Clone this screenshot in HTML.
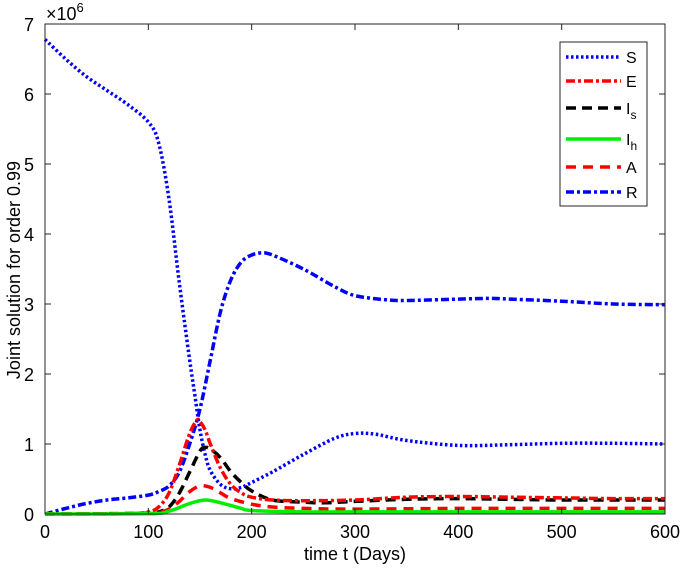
<!DOCTYPE html>
<html><head><meta charset="utf-8"><style>
body{margin:0;background:#fff}
svg{font-family:"Liberation Sans",Arial,sans-serif}
</style></head><body>
<svg width="680" height="573" viewBox="0 0 680 573">
<g id="plot"></g>
<g id="axes"></g>
<g id="legend"></g>
</svg>
<script>
const xTicks=[0,100,200,300,400,500,600];
const yTicks=[0,1,2,3,4,5,6,7];
const tS=[0,20,40,60,80,100,110,120,130,140,145,150,155,160,170,180,190,200,220,250,280,300,320,350,400,450,500,550,600];
const vS=[6.78,6.5,6.25,6.05,5.85,5.6,5.3,4.5,3.3,2.2,1.7,1.2,0.85,0.62,0.42,0.36,0.38,0.45,0.6,0.85,1.08,1.15,1.14,1.05,0.98,0.99,1.01,1.01,1.0];
const tR=[0,20,40,60,80,100,110,120,130,140,150,160,170,180,190,200,210,220,250,280,300,330,350,400,430,450,500,550,600];
const vR=[0,0.08,0.15,0.2,0.23,0.27,0.32,0.4,0.6,1.0,1.5,2.2,2.9,3.35,3.6,3.7,3.73,3.7,3.5,3.25,3.12,3.06,3.05,3.07,3.08,3.07,3.04,3.0,2.99];
const tE=[0,80,100,110,120,130,140,147,150,155,160,170,180,190,200,220,250,300,350,400,450,500,550,600];
const vE=[0,0.005,0.03,0.1,0.3,0.7,1.15,1.34,1.32,1.2,1.0,0.65,0.42,0.3,0.24,0.2,0.19,0.2,0.24,0.25,0.24,0.23,0.22,0.22];
const tI=[0,100,110,120,130,140,150,155,160,170,180,190,200,220,250,270,300,350,400,450,500,600];
const vI=[0,0.01,0.03,0.1,0.3,0.6,0.9,0.95,0.93,0.8,0.6,0.45,0.33,0.2,0.17,0.16,0.18,0.21,0.22,0.21,0.2,0.2];
const tA=[0,100,110,120,130,140,150,160,170,180,200,220,250,300,400,500,600];
const vA=[0,0.005,0.02,0.07,0.18,0.32,0.4,0.38,0.3,0.22,0.14,0.1,0.08,0.07,0.08,0.08,0.08];
const tH=[0,100,120,140,155,170,190,200,250,300,600];
const vH=[0,0.005,0.04,0.15,0.2,0.16,0.08,0.05,0.03,0.03,0.03];
const NS='http://www.w3.org/2000/svg';
const X0=45,X1=665,Y0=514,Y1=24;
const sx=t=>X0+(t/600)*(X1-X0);
const sy=v=>Y0-(v/7)*(Y0-Y1);
function mk(tag,attrs,parent){const e=document.createElementNS(NS,tag);for(const k in attrs)e.setAttribute(k,attrs[k]);parent.appendChild(e);return e;}
function pathD(ts,vs){const p=ts.map((t,i)=>[sx(t),sy(vs[i])]);let d='M'+p[0][0]+','+p[0][1];
for(let i=0;i<p.length-1;i++){const a=p[i-1]||p[i],b=p[i],c=p[i+1],e=p[i+2]||c;
d+=' C'+(b[0]+(c[0]-a[0])/6)+','+(b[1]+(c[1]-a[1])/6)+' '+(c[0]-(e[0]-b[0])/6)+','+(c[1]-(e[1]-b[1])/6)+' '+c[0]+','+c[1];}return d;}
const plot=document.getElementById('plot');
const series=[
 {n:'R',t:tR,v:vR,c:'#0000ff',d:'8,3,3,3'},
 {n:'S',t:tS,v:vS,c:'#0000ff',d:'2.5,2.5'},
 {n:'Is',t:tI,v:vI,c:'#000000',d:'10,6'},
 {n:'A',t:tA,v:vA,c:'#ff0000',d:'10,7'},
 {n:'E',t:tE,v:vE,c:'#ff0000',d:'9,3,3,3'},
 {n:'Ih',t:tH,v:vH,c:'#00ee00',d:'none'}];
series.forEach(s=>{const e=mk('path',{d:pathD(s.t,s.v),fill:'none',stroke:s.c,'stroke-width':3.5,'stroke-dasharray':s.d},plot);

});
const ax=document.getElementById('axes');
const box=mk('rect',{x:X0,y:Y1,width:X1-X0,height:Y0-Y1,fill:'none',stroke:'#262626','stroke-width':1},ax);


xTicks.forEach(t=>{const x=sx(t);
mk('line',{x1:x,y1:Y0,x2:x,y2:Y0-6,stroke:'#262626'},ax);mk('line',{x1:x,y1:Y1,x2:x,y2:Y1+6,stroke:'#262626'},ax);
const l=mk('text',{x:x,y:Y0+24,'text-anchor':'middle','font-size':18,fill:'#000'},ax);l.textContent=t;

});
yTicks.forEach(v=>{const y=sy(v);
mk('line',{x1:X0,y1:y,x2:X0+6,y2:y,stroke:'#262626'},ax);mk('line',{x1:X1,y1:y,x2:X1-6,y2:y,stroke:'#262626'},ax);
const l=mk('text',{x:X0-11,y:y+7,'text-anchor':'end','font-size':18,fill:'#000'},ax);l.textContent=v;

});
</script>
<svg style="position:absolute;left:0;top:0" width="680" height="573">
<text x="46" y="20" font-size="18" font-family="Liberation Sans,sans-serif">×10<tspan dy="-8" font-size="13">6</tspan></text>
<text x="355" y="560" font-size="18" text-anchor="middle" font-family="Liberation Sans,sans-serif">time t (Days)</text>
<text transform="translate(20,270) rotate(-90)" font-size="18" text-anchor="middle" font-family="Liberation Sans,sans-serif">Joint solution for order 0.99</text>
<g font-family="Liberation Sans,sans-serif" font-size="16">
<rect x="560" y="42" width="87" height="164" fill="#fff" stroke="#262626" stroke-width="1"/>
<line x1="566" y1="57" x2="621" y2="57" stroke="#0000ff" stroke-width="3.5" stroke-dasharray="2.5,2.5"/><text x="626" y="63">S</text>
<line x1="566" y1="81" x2="621" y2="81" stroke="#ff0000" stroke-width="3.5" stroke-dasharray="9,3,3,3"/><text x="626" y="87">E</text>
<line x1="566" y1="108" x2="621" y2="108" stroke="#000" stroke-width="3.5" stroke-dasharray="10,6"/><text x="626" y="114">I<tspan font-size="12" dy="5">s</tspan></text>
<line x1="566" y1="139" x2="621" y2="139" stroke="#00ee00" stroke-width="3.5"/><text x="626" y="145">I<tspan font-size="12" dy="5">h</tspan></text>
<line x1="566" y1="167" x2="621" y2="167" stroke="#ff0000" stroke-width="3.5" stroke-dasharray="10,7"/><text x="626" y="173">A</text>
<line x1="566" y1="192" x2="621" y2="192" stroke="#0000ff" stroke-width="3.5" stroke-dasharray="8,3,3,3"/><text x="626" y="198">R</text>
</g>
</svg>
</body></html>
